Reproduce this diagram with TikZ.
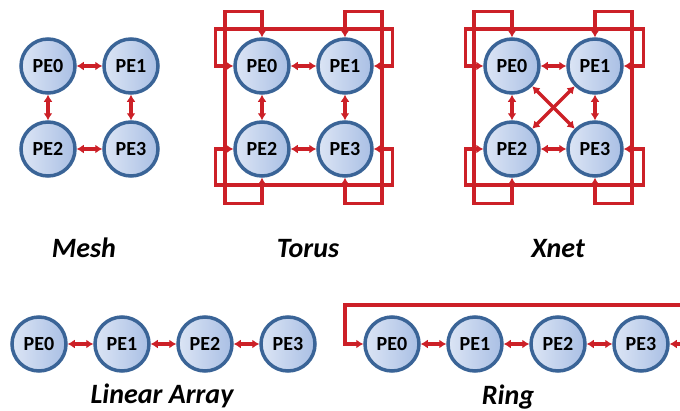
\documentclass[tikz,border=0pt]{standalone}
\usepackage{fontspec}
\setmainfont{Carlito}
\usepackage{xcolor}
\usepackage{tikz}
\usetikzlibrary{positioning, arrows.meta}

\definecolor{peline}{HTML}{3A6497}
\definecolor{pelight}{HTML}{DCE5F5}
\definecolor{pedark}{HTML}{A9BFE4}
\definecolor{linkred}{HTML}{CC2027}

\begin{document}
\begin{tikzpicture}[x=1pt, y=-1pt, node distance=83pt, on grid,
  >={Latex[length=7pt,width=9pt]},
  pe/.style={circle, draw=peline, line width=3.5pt, left color=pelight, right color=pedark,
    minimum size=54pt, inner sep=0pt, font=\bfseries\fontsize{20}{20}\selectfont},
  link/.style={color=linkred, line width=3.5pt, <->},
  title/.style={anchor=base, font=\bfseries\itshape\fontsize{28}{28}\selectfont}]

  \useasboundingbox (0,0) rectangle (680,410);

  % Mesh
  \node[pe] (M0) at (48,66) {PE0};
  \node[pe] (M1) [right=of M0] {PE1};
  \node[pe] (M2) [below=of M0] {PE2};
  \node[pe] (M3) [right=of M2] {PE3};
  \node[title] (Mt) at (84,257) {Mesh};

  \path[link]
    (M0) edge (M1)
    (M0) edge (M2)
    (M1) edge (M3)
    (M2) edge (M3);

  % Torus
  \node[pe] (T0) at (262,66) {PE0};
  \node[pe] (T1) [right=of T0] {PE1};
  \node[pe] (T2) [below=of T0] {PE2};
  \node[pe] (T3) [right=of T2] {PE3};
  \node[title] (Tt) at (308,257) {Torus};

  \path[link]
    (T0) edge (T1)
    (T0) edge (T2)
    (T1) edge (T3)
    (T2) edge (T3);

  \draw[link] (T0.north) -- ++(0,-26) -- ++(-37,0) -- ++(0,192) -- ++(37,0) -- (T2.south);
  \draw[link] (T1.north) -- ++(0,-26) -- ++(37,0) -- ++(0,192) -- ++(-37,0) -- (T3.south);
  \draw[link] (T0.west) -- ++(-18,0) -- ++(0,-37) -- ++(177,0) -- ++(0,37) -- (T1.east);
  \draw[link] (T2.west) -- ++(-18,0) -- ++(0,36) -- ++(177,0) -- ++(0,-36) -- (T3.east);

  % Xnet
  \node[pe] (X0) at (512,66) {PE0};
  \node[pe] (X1) [right=of X0] {PE1};
  \node[pe] (X2) [below=of X0] {PE2};
  \node[pe] (X3) [right=of X2] {PE3};
  \node[title] (Xt) at (558,257) {Xnet};

  \path[link]
    (X0) edge (X1)
    (X0) edge (X2)
    (X1) edge (X3)
    (X2) edge (X3)
    (X0) edge (X3)
    (X1) edge (X2);

  \draw[link] (X0.north) -- ++(0,-26) -- ++(-38,0) -- ++(0,192) -- ++(38,0) -- (X2.south);
  \draw[link] (X1.north) -- ++(0,-26) -- ++(37,0) -- ++(0,192) -- ++(-37,0) -- (X3.south);
  \draw[link] (X0.west) -- ++(-18,0) -- ++(0,-37) -- ++(178,0) -- ++(0,37) -- (X1.east);
  \draw[link] (X2.west) -- ++(-18,0) -- ++(0,36) -- ++(178,0) -- ++(0,-36) -- (X3.east);

  % Linear array
  \node[pe] (L0) at (39,344) {PE0};
  \node[pe] (L1) [right=of L0] {PE1};
  \node[pe] (L2) [right=of L1] {PE2};
  \node[pe] (L3) [right=of L2] {PE3};
  \node[title] (Lt) at (162,403) {Linear Array};

  \path[link]
    (L0) edge (L1)
    (L1) edge (L2)
    (L2) edge (L3);

  % Ring
  \node[pe] (R0) at (392,344) {PE0};
  \node[pe] (R1) [right=of R0] {PE1};
  \node[pe] (R2) [right=of R1] {PE2};
  \node[pe] (R3) [right=of R2] {PE3};
  \node[title] (Rt) at (508,404) {Ring};
  \coordinate (Rend) at (681,305);

  \path[link]
    (R0) edge (R1)
    (R1) edge (R2)
    (R2) edge (R3);

  \draw[link, <-] (R3.east) -- ++(12,0);
  \draw[link, ->] (Rend) -- ++(-336,0) -- ++(0,39) -- (R0.west);

\end{tikzpicture}
\end{document}
